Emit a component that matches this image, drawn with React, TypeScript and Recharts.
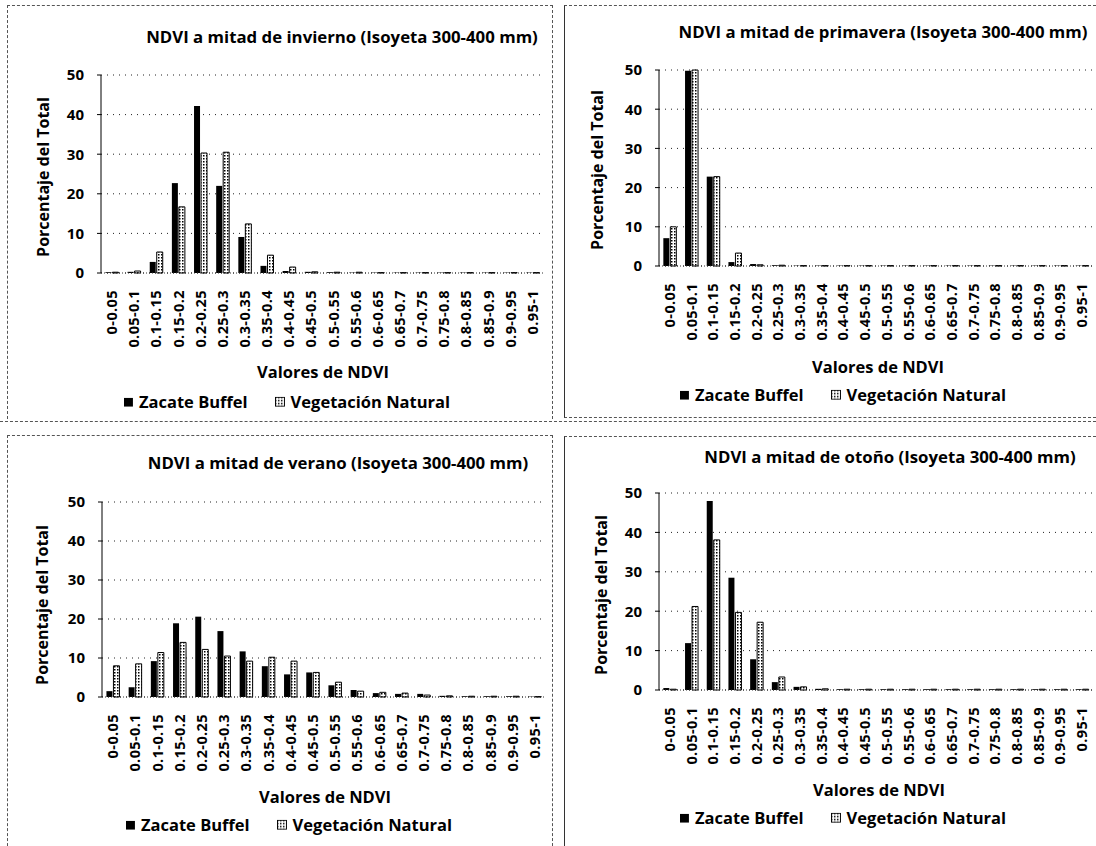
import React from 'react';
import { BarChart, Bar, XAxis, YAxis, CartesianGrid } from 'recharts';

const FONT = "'Open Sans', 'DejaVu Sans', sans-serif";

const categories = [
  '0-0.05', '0.05-0.1', '0.1-0.15', '0.15-0.2', '0.2-0.25', '0.25-0.3', '0.3-0.35', '0.35-0.4',
  '0.4-0.45', '0.45-0.5', '0.5-0.55', '0.55-0.6', '0.6-0.65', '0.65-0.7', '0.7-0.75', '0.75-0.8',
  '0.8-0.85', '0.85-0.9', '0.9-0.95', '0.95-1',
];
const yTicks = [0, 10, 20, 30, 40, 50];

const winterBuffel = [0.2, 0.3, 2.8, 22.7, 42.2, 22.0, 9.1, 1.8, 0.5, 0.3, 0.2, 0.1, 0.1, 0.1, 0.1, 0.1, 0.1, 0.1, 0.1, 0.1];
const winterNatural = [0.2, 0.5, 5.3, 16.7, 30.3, 30.5, 12.4, 4.5, 1.5, 0.3, 0.2, 0.2, 0.1, 0.1, 0.1, 0.1, 0.1, 0.1, 0.1, 0.1];

const springBuffel = [7.1, 49.8, 22.8, 1.0, 0.5, 0.2, 0.1, 0.1, 0.1, 0.1, 0.1, 0.1, 0.1, 0.1, 0.1, 0.1, 0.1, 0.1, 0.1, 0.1];
const springNatural = [10.0, 50.0, 22.8, 3.3, 0.3, 0.2, 0.1, 0.1, 0.1, 0.1, 0.1, 0.1, 0.1, 0.1, 0.1, 0.1, 0.1, 0.1, 0.1, 0.1];

const summerBuffel = [1.5, 2.5, 9.2, 18.9, 20.6, 16.9, 11.7, 7.9, 5.8, 6.3, 3.0, 1.8, 1.0, 0.8, 0.8, 0.3, 0.2, 0.2, 0.2, 0.1];
const summerNatural = [8.0, 8.5, 11.4, 14.0, 12.2, 10.5, 9.2, 10.2, 9.2, 6.3, 3.8, 1.5, 1.2, 1.0, 0.5, 0.3, 0.2, 0.2, 0.2, 0.1];

const autumnBuffel = [0.5, 11.9, 48.0, 28.5, 7.8, 2.0, 0.8, 0.3, 0.2, 0.2, 0.2, 0.2, 0.2, 0.2, 0.2, 0.2, 0.2, 0.2, 0.2, 0.2];
const autumnNatural = [0.2, 21.2, 38.1, 19.7, 17.2, 3.3, 0.8, 0.3, 0.2, 0.2, 0.2, 0.2, 0.2, 0.2, 0.2, 0.2, 0.2, 0.2, 0.2, 0.2];

const seriesNames = ['Zacate Buffel', 'Vegetación Natural'];
const yAxisTitle = 'Porcentaje del Total';
const xAxisTitle = 'Valores de NDVI';

const YW = 60;
const XH = 85;
const MT = 10;
const MR = 4;

type Pt = { x: number; y: number };
type PanelProps = {
  id: string;
  title: string;
  buffel: number[];
  natural: number[];
  plot: { left: number; right: number; top: number; bottom: number };
  titlePos: Pt;
  yLabelPos: Pt;
  xTitlePos: Pt;
  legendPos: Pt;
};

const textStyle: React.CSSProperties = {
  position: 'absolute',
  transform: 'translate(-50%, -50%)',
  whiteSpace: 'nowrap',
  fontFamily: FONT,
  fontWeight: 700,
  color: '#000',
  lineHeight: 1,
};

function XTick(props: any) {
  const { x, y, payload } = props;
  return (
    <g transform={`translate(${x},${y})`}>
      <text
        transform="rotate(-90)"
        x={0}
        y={0}
        dy={5}
        textAnchor="end"
        fill="#000"
        fontFamily={FONT}
        fontWeight={700}
        fontSize={14.5}
        letterSpacing={0.4}
      >
        {payload.value}
      </text>
    </g>
  );
}

function HatchDefs({ id }: { id: string }) {
  return (
    <defs>
      <pattern id={id} width="3" height="3" patternUnits="userSpaceOnUse">
        <rect width="3" height="3" fill="#fff" />
        <rect width="1.5" height="1.5" fill="#000" />
      </pattern>
    </defs>
  );
}

function Panel(p: PanelProps) {
  const data = categories.map((c, i) => ({ cat: c, buffel: p.buffel[i], natural: p.natural[i] }));
  const chartLeft = p.plot.left - YW;
  const chartTop = p.plot.top - MT;
  const width = p.plot.right - chartLeft + MR;
  const height = p.plot.bottom - chartTop + XH;
  const hatchId = `hatch-${p.id}`;
  return (
    <>
      <div style={{ ...textStyle, left: p.titlePos.x, top: p.titlePos.y, fontSize: 16.8 }}>{p.title}</div>
      <div style={{ ...textStyle, left: p.yLabelPos.x, top: p.yLabelPos.y, fontSize: 16, transform: 'translate(-50%, -50%) rotate(-90deg)' }}>
        {yAxisTitle}
      </div>
      <div style={{ ...textStyle, left: p.xTitlePos.x, top: p.xTitlePos.y, fontSize: 16.5 }}>{xAxisTitle}</div>
      <div style={{ ...textStyle, left: p.legendPos.x, top: p.legendPos.y, fontSize: 16.5, display: 'flex', alignItems: 'center' }}>
        <svg width={9} height={9} style={{ marginRight: 6 }}>
          <rect width={9} height={9} fill="#000" />
        </svg>
        <span>{seriesNames[0]}</span>
        <svg width={10} height={10} style={{ marginLeft: 27, marginRight: 6 }}>
          <HatchDefs id={`${hatchId}-leg`} />
          <rect x={0.5} y={0.5} width={9} height={9} fill={`url(#${hatchId}-leg)`} stroke="#000" strokeWidth={1} />
        </svg>
        <span>{seriesNames[1]}</span>
      </div>
      <div style={{ position: 'absolute', left: chartLeft, top: chartTop }}>
        <BarChart
          width={width}
          height={height}
          data={data}
          margin={{ top: MT, right: MR, bottom: 0, left: 0 }}
          barCategoryGap="20%"
          barGap={1}
        >
          <HatchDefs id={hatchId} />
          <CartesianGrid vertical={false} stroke="#222" strokeDasharray="1 5" />
          <XAxis
            dataKey="cat"
            interval={0}
            height={XH}
            tick={(tp: any) => <XTick {...tp} />}
            tickLine={false}
            tickMargin={11}
            axisLine={{ stroke: '#333', strokeDasharray: '1 2' }}
          />
          <YAxis
            domain={[0, 50]}
            ticks={yTicks}
            width={YW}
            tickSize={4}
            tickMargin={13}
            axisLine={{ stroke: '#000' }}
            tickLine={{ stroke: '#000' }}
            tick={{ fill: '#000', fontSize: 15, fontWeight: 700, fontFamily: FONT }}
            interval={0}
          />
          <Bar dataKey="buffel" name={seriesNames[0]} fill="#000" isAnimationActive={false} />
          <Bar
            dataKey="natural"
            name={seriesNames[1]}
            fill={`url(#${hatchId})`}
            stroke="#000"
            strokeWidth={1}
            isAnimationActive={false}
          />
        </BarChart>
      </div>
    </>
  );
}

const dashed = '1px dashed #555';

export default function App() {
  return (
    <div style={{ position: 'absolute', left: 0, top: 0, width: 1096, height: 846, background: '#fff', overflow: 'hidden' }}>
      <div style={{ position: 'absolute', left: 7, top: 5, width: 544, height: 413, borderTop: dashed, borderLeft: dashed, borderRight: dashed }} />
      <div style={{ position: 'absolute', left: 564, top: 5, width: 540, height: 411, border: dashed, borderLeft: '1px solid #333' }} />
      <div style={{ position: 'absolute', left: 0, top: 421, width: 1096, height: 0, borderTop: dashed }} />
      <div style={{ position: 'absolute', left: 7, top: 435, width: 544, height: 420, borderTop: dashed, borderLeft: dashed, borderRight: dashed }} />
      <div style={{ position: 'absolute', left: 564, top: 436, width: 540, height: 409, border: dashed, borderLeft: '1px solid #333' }} />

      <Panel
        id="inv"
        title="NDVI a mitad de invierno (Isoyeta 300-400 mm)"
        buffel={winterBuffel}
        natural={winterNatural}
        plot={{ left: 101, right: 544, top: 75, bottom: 273 }}
        titlePos={{ x: 342, y: 37 }}
        yLabelPos={{ x: 43, y: 177 }}
        xTitlePos={{ x: 323, y: 372 }}
        legendPos={{ x: 287, y: 402 }}
      />
      <Panel
        id="pri"
        title="NDVI a mitad de primavera (Isoyeta 300-400 mm)"
        buffel={springBuffel}
        natural={springNatural}
        plot={{ left: 659, right: 1093, top: 70, bottom: 266 }}
        titlePos={{ x: 883, y: 32 }}
        yLabelPos={{ x: 597, y: 170 }}
        xTitlePos={{ x: 878, y: 367 }}
        legendPos={{ x: 843, y: 395 }}
      />
      <Panel
        id="ver"
        title="NDVI a mitad de verano (Isoyeta 300-400 mm)"
        buffel={summerBuffel}
        natural={summerNatural}
        plot={{ left: 102, right: 546, top: 502, bottom: 697 }}
        titlePos={{ x: 338, y: 463 }}
        yLabelPos={{ x: 42, y: 605 }}
        xTitlePos={{ x: 325, y: 797 }}
        legendPos={{ x: 289, y: 825 }}
      />
      <Panel
        id="oto"
        title="NDVI a mitad de otoño (Isoyeta 300-400 mm)"
        buffel={autumnBuffel}
        natural={autumnNatural}
        plot={{ left: 659, right: 1093, top: 493, bottom: 690 }}
        titlePos={{ x: 890, y: 457 }}
        yLabelPos={{ x: 601, y: 595 }}
        xTitlePos={{ x: 879, y: 790 }}
        legendPos={{ x: 843, y: 818 }}
      />
    </div>
  );
}
